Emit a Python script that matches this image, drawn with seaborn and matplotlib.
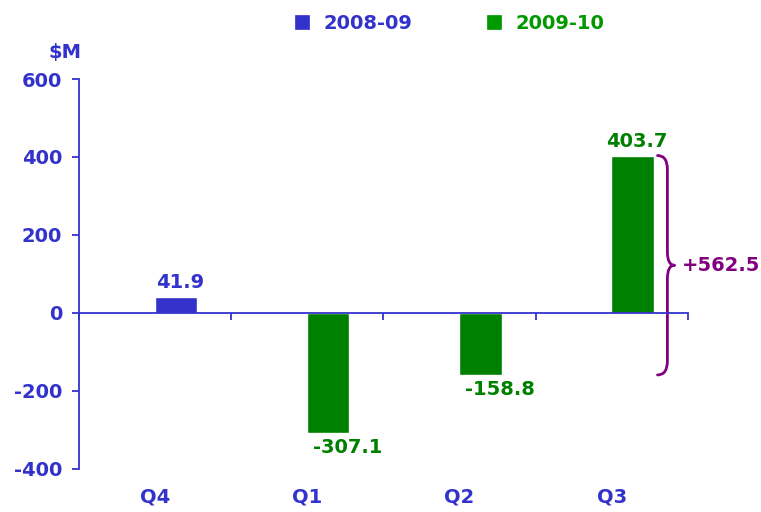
import numpy as np
import pandas as pd
import seaborn as sns
import matplotlib.pyplot as plt
from matplotlib.path import Path
from matplotlib.patches import PathPatch

# Quarterly result ($M)
quarters = ["Q4", "Q1", "Q2", "Q3"]
years = ["2008-09", "2009-10", "2009-10", "2009-10"]
values = [41.9, -307.1, -158.8, 403.7]
year_levels = ["2008-09", "2009-10"]
yticks = [-400, -200, 0, 200, 400, 600]

BLUE = "#3333CC"
GREEN = "#008000"
PURPLE = "#800080"

data = pd.DataFrame({"Quarter": quarters, "Year": years, "Value": values})

sns.set_theme(style="white")
plt.rcParams["font.family"] = ["DejaVu Sans"]
plt.rcParams["font.weight"] = "bold"
plt.rcParams["axes.unicode_minus"] = False

fig, ax = plt.subplots(figsize=(7.61, 5.12), dpi=100)
fig.subplots_adjust(left=0.1038, right=0.904, top=0.8457, bottom=0.084)

sns.barplot(
    data=data, x="Quarter", y="Value", hue="Year", hue_order=year_levels,
    order=quarters, dodge=False, width=0.28,
    palette={"2008-09": BLUE, "2009-10": GREEN},
    saturation=1, ax=ax,
)

# bars sit a bit right of the category centre
shift = 0.136
for p in ax.patches:
    p.set_x(p.get_x() + shift)

# value labels
for i, v in enumerate(values):
    col = BLUE if years[i] == "2008-09" else GREEN
    if v >= 0:
        ax.annotate(f"{v:.1f}", xy=(i + shift + 0.03, v), xytext=(0, 3),
                    textcoords="offset points", ha="center", va="bottom",
                    color=col, fontsize=14, fontweight="bold")
    else:
        ax.annotate(f"{v:.1f}", xy=(i + shift + 0.13, v), xytext=(0, -4),
                    textcoords="offset points", ha="center", va="top",
                    color=col, fontsize=14, fontweight="bold")

# axes styling
ax.set_xlim(-0.5, len(quarters) - 0.5)
ax.set_ylim(min(yticks), max(yticks))
ax.set_yticks(yticks)
ax.set_xticks(np.arange(len(quarters) + 1) - 0.5)
ax.set_xticklabels([])
ax.set_xlabel("")
ax.set_ylabel("")
for s in ["top", "right"]:
    ax.spines[s].set_visible(False)
ax.spines["bottom"].set_position(("data", 0))
for s in ["left", "bottom"]:
    ax.spines[s].set_color(BLUE)
    ax.spines[s].set_linewidth(1.3)
ax.tick_params(axis="y", direction="out", length=5, width=1.3, color=BLUE,
               labelcolor=BLUE, labelsize=14, pad=7, left=True)
ax.tick_params(axis="x", direction="out", length=5, width=1.3, color=BLUE,
               bottom=True)
for lab in ax.get_yticklabels():
    lab.set_fontweight("bold")

# category labels under the plot
for i, q in enumerate(quarters):
    ax.annotate(q, xy=(i, 0), xycoords=("data", "axes fraction"),
                xytext=(0, -20), textcoords="offset points",
                ha="center", va="center", color=BLUE, fontsize=14,
                fontweight="bold")

ax.annotate(r"\$M", xy=(0, 1), xycoords="axes fraction", xytext=(2, 19),
            textcoords="offset points", ha="right", va="center",
            color=BLUE, fontsize=14, fontweight="bold")

# brace showing the swing from Q2 to Q3
top, bottom = values[-1], values[-2]
mid = (top + bottom) / 2
r = 35
x0, x1, x2 = 3.30, 3.365, 3.41
verts = [(x0, top), (x1, top), (x1, top - r), (x1, mid + r), (x1, mid), (x2, mid),
         (x2, mid), (x1, mid), (x1, mid - r), (x1, bottom + r), (x1, bottom), (x0, bottom)]
codes = [Path.MOVETO, Path.CURVE3, Path.CURVE3, Path.LINETO, Path.CURVE3, Path.CURVE3,
         Path.MOVETO, Path.CURVE3, Path.CURVE3, Path.LINETO, Path.CURVE3, Path.CURVE3]
ax.add_patch(PathPatch(Path(verts, codes), fill=False, edgecolor=PURPLE,
                       linewidth=2, clip_on=False, capstyle="round"))
ax.text(3.46, mid, f"+{top - bottom:.1f}", ha="left", va="center",
        color=PURPLE, fontsize=14, fontweight="bold", clip_on=False)

# legend across the top
handles, labels = ax.get_legend_handles_labels()
ax.get_legend().remove()
leg = fig.legend(handles, labels, loc="center", bbox_to_anchor=(0.591, 0.955),
                 ncol=2, frameon=False, handlelength=0.75, handleheight=0.75,
                 handletextpad=0.75, columnspacing=3.8, fontsize=14)
for t, h, c in zip(leg.get_texts(), leg.legend_handles, [BLUE, "#009900"]):
    t.set_color(c)
    t.set_fontweight("bold")
    h.set_facecolor(c)
    h.set_edgecolor(c)
    h.set_linewidth(0.5)

fig.savefig("out.png", dpi=100)
